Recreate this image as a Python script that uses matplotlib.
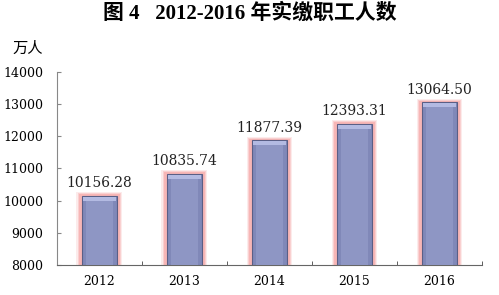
import matplotlib.pyplot as plt
import numpy as np

plt.rcParams['font.family'] = ['DejaVu Serif', 'Noto Sans CJK SC']

years = ['2012', '2013', '2014', '2015', '2016']
workers = [10156.28, 10835.74, 11877.39, 12393.31, 13064.50]
yticks = [8000, 9000, 10000, 11000, 12000, 13000, 14000]

fig = plt.figure(figsize=(4.99, 2.95), dpi=100)
ax = fig.add_axes([0.114, 0.102, 0.852, 0.654])

x = np.arange(len(years))
base = 8000
h = np.array(workers) - base

# pink glow round the bars
for w, extra, a in [(0.54, 110, 0.25), (0.51, 75, 0.45), (0.48, 45, 0.8)]:
    ax.bar(x, h + extra, bottom=base, width=w, color='#f7b0b0', alpha=a, lw=0, zorder=2)
# main bar
ax.bar(x, h, bottom=base, width=0.42, color='#8088b8', edgecolor='#5a5f86', lw=0.8, zorder=3)
# lighter inner face / bevel
ax.bar(x, h - 160, bottom=base, width=0.32, color='#8e96c4', lw=0, zorder=4)
ax.bar(x, [130] * len(x), bottom=np.array(workers) - 160, width=0.38,
       color='#b3bae2', lw=0, zorder=4)

for xi, v in zip(x, workers):
    ax.text(xi, v + 170, '%.2f' % v, ha='center', va='bottom', fontsize=10, color='#222222')

ax.set_ylim(8000, 14000)
ax.set_xlim(-0.5, 4.5)
ax.set_yticks(yticks)
ax.set_yticklabels([str(t) for t in yticks], fontsize=9)
ax.set_xticks(x)
ax.set_xticklabels(years, fontsize=9)
ax.set_xticks(np.arange(-0.5, 5, 1), minor=True)
ax.tick_params(axis='x', which='major', length=0, pad=7)
ax.tick_params(axis='x', which='minor', direction='in', length=3, color='#444444')
ax.tick_params(axis='y', direction='in', length=3, color='#888888', pad=10)
for s in ['top', 'right']:
    ax.spines[s].set_visible(False)
ax.spines['left'].set_color('#888888')
ax.spines['bottom'].set_color('#666666')

fig.text(0.5, 0.955, '图 4   2012-2016 年实缴职工人数', ha='center', va='center',
         fontsize=15, fontweight='bold', family=['Liberation Serif', 'Noto Sans CJK SC'])
fig.text(0.024, 0.835, '万人', ha='left', va='center', fontsize=11,
         family=['Noto Sans CJK SC'])

fig.savefig('out.png', dpi=100)
